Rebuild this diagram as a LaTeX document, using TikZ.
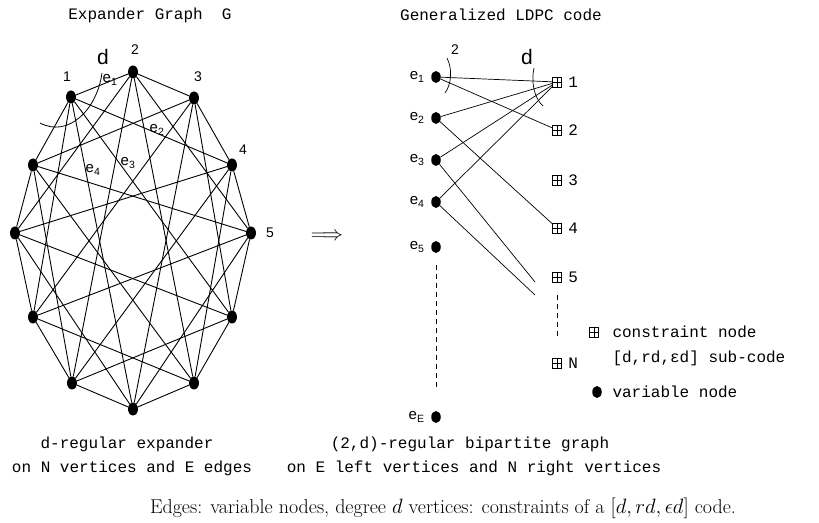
\documentclass[tikz,border=0pt]{standalone}
\usepackage{fontspec}
\setsansfont{Liberation Sans}
\setmonofont{Liberation Mono}
\usetikzlibrary{shapes.geometric}

\begin{document}
\begin{tikzpicture}[x=1pt,y=1pt,
    vtx/.style={ellipse,fill,inner sep=0pt,minimum width=10pt,minimum height=13pt},
    vnode/.style={ellipse,fill,inner sep=0pt,minimum width=9.5pt,minimum height=12pt},
    cnode/.style={rectangle,draw,line width=0.7pt,inner sep=0pt,
      minimum width=9pt,minimum height=10pt,
      path picture={\draw[line width=0.7pt]
        (path picture bounding box.north) -- (path picture bounding box.south)
        (path picture bounding box.west) -- (path picture bounding box.east);}},
    num/.style={font=\fontsize{14}{16}\sffamily},
    elab/.style={font=\fontsize{15}{17}\sffamily},
    dlab/.style={font=\fontsize{21}{24}\sffamily},
    txt/.style={font=\fontsize{16}{18}\ttfamily},
    dashline/.style={dash pattern=on 5pt off 4pt}]
  \useasboundingbox (0,0) rectangle (819,522);

  % expander graph G
  \draw
    (71,425) node[vtx] (1){}
    (133,450) node[vtx] (2){}
    (194,424) node[vtx] (3){}
    (232,357) node[vtx] (4){}
    (251,289) node[vtx] (5){}
    (232,205) node[vtx] (6){}
    (194,139) node[vtx] (7){}
    (133,113) node[vtx] (8){}
    (72,139) node[vtx] (9){}
    (33,205) node[vtx] (10){}
    (15,289) node[vtx] (11){}
    (33,357) node[vtx] (12){};
  \begin{scope}[line width=0.9pt]
    \draw (1) to (2);
    \draw (2) to (3);
    \draw (3) to (4);
    \draw (4) to (5);
    \draw (5) to (6);
    \draw (6) to (7);
    \draw (7) to (8);
    \draw (8) to (9);
    \draw (9) to (10);
    \draw (10) to (11);
    \draw (11) to (12);
    \draw (12) to (1);
    \draw (1) to (4);
    \draw (2) to (5);
    \draw (3) to (6);
    \draw (4) to (7);
    \draw (5) to (8);
    \draw (6) to (9);
    \draw (7) to (10);
    \draw (8) to (11);
    \draw (9) to (12);
    \draw (10) to (1);
    \draw (11) to (2);
    \draw (12) to (3);
    \draw (1) to (6);
    \draw (2) to (7);
    \draw (3) to (8);
    \draw (4) to (9);
    \draw (5) to (10);
    \draw (6) to (11);
    \draw (7) to (12);
    \draw (8) to (1);
    \draw (9) to (2);
    \draw (10) to (3);
    \draw (11) to (4);
    \draw (12) to (5);
  \end{scope}
  \node[num] (n1) at (67,445) {1};
  \node[num] (n2) at (135,472) {2};
  \node[num] (n3) at (198,445) {3};
  \node[num] (n4) at (243,372) {4};
  \node[num] (n5) at (270,289) {5};
  \node[dlab] (d1) at (103,465) {d};
  \node[elab] (le1) at (110,442) {e\textsubscript{1}};
  \node[elab] (le2) at (157,392) {e\textsubscript{2}};
  \node[elab] (le3) at (128,359) {e\textsubscript{3}};
  \node[elab] (le4) at (93,352) {e\textsubscript{4}};
  \draw[line width=0.8pt] (40,399) .. controls (68,384) and (97,412) .. (102,449);

  \node[font=\fontsize{20}{24}\selectfont] (arr) at (327,285) {$\Longrightarrow$};

  % generalized LDPC code
  \draw
    (436,445) node[vnode,label={[elab,label distance=3pt]left:e\textsubscript{1}}] (e1){}
    (436,404) node[vnode,label={[elab,label distance=3pt]left:e\textsubscript{2}}] (e2){}
    (436,362) node[vnode,label={[elab,label distance=3pt]left:e\textsubscript{3}}] (e3){}
    (436,320) node[vnode,label={[elab,label distance=3pt]left:e\textsubscript{4}}] (e4){}
    (436,275) node[vnode,label={[elab,label distance=3pt]left:e\textsubscript{5}}] (e5){}
    (436,105) node[vnode,label={[elab,label distance=3pt]left:e\textsubscript{E}}] (eE){};
  \draw
    (557,440) node[cnode,label={[txt,label distance=3pt]right:1}] (c1){}
    (557,392) node[cnode,label={[txt,label distance=3pt]right:2}] (c2){}
    (557,342) node[cnode,label={[txt,label distance=3pt]right:3}] (c3){}
    (557,294) node[cnode,label={[txt,label distance=3pt]right:4}] (c4){}
    (557,245) node[cnode,label={[txt,label distance=3pt]right:5}] (c5){}
    (557,159) node[cnode,label={[txt,label distance=3pt]right:N}] (cN){};
  \coordinate (s3) at (535,240);
  \coordinate (s4) at (535,227);
  \begin{scope}[line width=0.7pt]
    \draw (e1) to (c1);
    \draw (e1) to (c2);
    \draw (e2) to (c1);
    \draw (e2) to (c4);
    \draw (e3) to (c1);
    \draw (e3) to (s3);
    \draw (e4) to (c1);
    \draw (e4) to (s4);
    \draw[dashline,shorten <=12pt,shorten >=24pt] (e5) to (eE);
    \draw[dashline,shorten <=13pt,shorten >=20pt] (c5) to (cN);
    \draw (447,464) .. controls (453,452) and (451,437) .. (445,429);
    \draw (534,454) .. controls (531,440) and (534,424) .. (543,416);
  \end{scope}
  \node[num] (two) at (455,472) {2};
  \node[dlab] (d2) at (527,465) {d};

  % legend
  \node[cnode] (lc) at (594,190) {};
  \node[txt,anchor=west] (lct) at (609,190) {constraint node};
  \node[txt,anchor=west] (lsc) at (609,164) {[d,rd,εd] sub-code};
  \node[vnode] (lv) at (597,130) {};
  \node[txt,anchor=west] (lvt) at (609,130) {variable node};

  % titles and captions
  \node[txt] (t1) at (150,507) {Expander Graph~~G};
  \node[txt] (t2) at (501,507) {Generalized LDPC code};
  \node[txt] (cap1) at (127,78) {d-regular expander};
  \node[txt] (cap2) at (132,54) {on N vertices and E edges};
  \node[txt] (cap3) at (470,78) {(2,d)-regular bipartite graph};
  \node[txt] (cap4) at (474,54) {on E left vertices and N right vertices};
  \node[font=\fontsize{20}{22}\selectfont] (cap5) at (443,14)
    {Edges: variable nodes, degree $d$ vertices: constraints of a $[d, rd, \epsilon d]$ code.};
\end{tikzpicture}
\end{document}
